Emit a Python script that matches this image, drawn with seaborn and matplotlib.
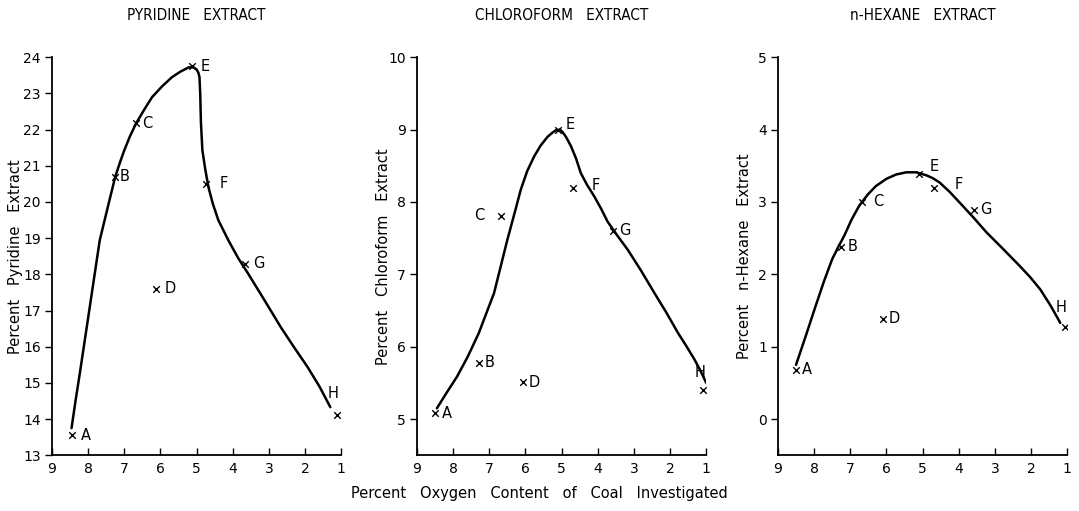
import seaborn as sns
import matplotlib.pyplot as plt
import pandas as pd

sns.set_theme(style="ticks")
plt.rcParams['font.family'] = ['DejaVu Sans']
plt.rcParams['text.color'] = 'black'
plt.rcParams['axes.labelcolor'] = 'black'

letters = ["A", "B", "C", "D", "E", "F", "G", "H"]

# measured points (percent oxygen, percent extract)
pyr_oxygen = [8.46, 7.25, 6.67, 6.12, 5.14, 4.75, 3.65, 1.12]
pyr_extract = [13.55, 20.7, 22.18, 17.6, 23.75, 20.5, 18.3, 14.1]
chl_oxygen = [8.49, 7.29, 6.69, 6.07, 5.10, 4.68, 3.57, 1.09]
chl_extract = [5.08, 5.78, 7.81, 5.51, 8.99, 8.19, 7.60, 5.40]
hex_oxygen = [8.50, 7.25, 6.68, 6.10, 5.11, 4.68, 3.57, 1.06]
hex_extract = [0.68, 2.38, 3.00, 1.39, 3.39, 3.20, 2.89, 1.27]

# hand drawn curves
pyr_curve_x = [8.46, 8.35, 8.23, 8.0, 7.68, 7.41, 7.25, 7.1, 7.0, 6.85, 6.67, 6.45, 6.23, 5.95,
               5.68, 5.45, 5.22, 5.08, 5.0, 4.95, 4.92, 4.9, 4.88, 4.84, 4.76, 4.67, 4.55, 4.4,
               4.12, 3.85, 3.58, 3.1, 2.67, 2.3, 1.93, 1.6, 1.3]
pyr_curve_y = [13.75, 14.5, 15.27, 16.8, 18.94, 20.05, 20.7, 21.15, 21.43, 21.8, 22.18, 22.55,
               22.9, 23.2, 23.45, 23.6, 23.72, 23.72, 23.66, 23.57, 23.45, 23.0, 22.2, 21.43,
               20.9, 20.4, 19.95, 19.5, 18.94, 18.45, 18.03, 17.25, 16.54, 15.98, 15.44,
               14.9, 14.33]
chl_curve_x = [8.45, 8.2, 7.89, 7.6, 7.29, 7.1, 6.87, 6.7, 6.5, 6.3, 6.13, 5.95, 5.76, 5.58,
               5.39, 5.25, 5.16, 5.05, 4.98, 4.88, 4.74, 4.6, 4.47, 4.3, 4.1, 3.9, 3.73, 3.45,
               3.17, 2.8, 2.43, 2.1, 1.78, 1.55, 1.32, 1.15, 1.0]
chl_curve_y = [5.15, 5.35, 5.59, 5.86, 6.19, 6.44, 6.74, 7.08, 7.48, 7.85, 8.17, 8.43, 8.63,
               8.78, 8.9, 8.96, 8.99, 9.0, 8.97, 8.9, 8.77, 8.6, 8.4, 8.24, 8.08, 7.9, 7.73,
               7.53, 7.34, 7.05, 6.74, 6.47, 6.19, 6.01, 5.82, 5.66, 5.5]
hex_curve_x = [8.5, 8.23, 7.96, 7.73, 7.5, 7.33, 7.17, 6.96, 6.75, 6.52, 6.29, 6.0, 5.73, 5.45,
               5.18, 5.04, 4.9, 4.72, 4.53, 4.25, 3.97, 3.6, 3.23, 2.77, 2.3, 2.02, 1.74, 1.46,
               1.19]
hex_curve_y = [0.75, 1.15, 1.56, 1.9, 2.21, 2.38, 2.53, 2.76, 2.95, 3.1, 3.22, 3.32, 3.38, 3.41,
               3.41, 3.39, 3.37, 3.33, 3.27, 3.14, 2.99, 2.79, 2.58, 2.35, 2.11, 1.96, 1.79,
               1.57, 1.33]

titles = ["PYRIDINE   EXTRACT", "CHLOROFORM   EXTRACT", "n-HEXANE   EXTRACT"]
ylabels = ["Percent   Pyridine   Extract", "Percent   Chloroform   Extract",
           "Percent   n-Hexane   Extract"]
ylims = [(13, 24), (4.5, 10), (-0.5, 5)]
yticks = [list(range(13, 25)), list(range(5, 11)), list(range(0, 6))]
ylabel_x = [-0.10, -0.09, -0.09]

# label offsets in points (dx, dy) per panel
offsets = [
    [(10, 0), (7, 0), (8, 0), (10, 0), (10, 0), (13, 0), (10, 0), (-3, 16)],
    [(8, 0), (8, 0), (-15, 0), (8, 0), (9, 4), (16, 2), (8, 0), (-2, 13)],
    [(8, 0), (8, 0), (12, 0), (8, 0), (11, 5), (18, 2), (8, 0), (-3, 14)],
]

points = [(pyr_oxygen, pyr_extract), (chl_oxygen, chl_extract), (hex_oxygen, hex_extract)]
curves = [(pyr_curve_x, pyr_curve_y), (chl_curve_x, chl_curve_y), (hex_curve_x, hex_curve_y)]

fig = plt.figure(figsize=(10.79, 5.11), dpi=100)
lefts = [0.0482, 0.3865, 0.721]
width = 0.268
bottom, height = 0.109, 0.779

for i in range(3):
    ax = fig.add_axes([lefts[i], bottom, width, height])
    cx, cy = curves[i]
    px, py = points[i]
    curve_df = pd.DataFrame({"oxygen": cx, "extract": cy})
    pt_df = pd.DataFrame({"oxygen": px, "extract": py, "sample": letters})
    sns.lineplot(data=curve_df, x="oxygen", y="extract", sort=False, color="black",
                 linewidth=1.8, ax=ax)
    sns.scatterplot(data=pt_df, x="oxygen", y="extract", marker="x", color="black",
                    s=22, linewidth=1.0, ax=ax, zorder=3)
    for j, lab in enumerate(letters):
        ax.annotate(lab, (px[j], py[j]), xytext=offsets[i][j], textcoords="offset points",
                    ha="center", va="center", fontsize=10.5, color="black")
    ax.set_xlim(9, 1)
    ax.set_ylim(*ylims[i])
    ax.set_xticks(range(1, 10))
    ax.set_yticks(yticks[i])
    ax.tick_params(axis="x", direction="in", length=5, width=1, labelsize=10, pad=5, colors="black")
    ax.tick_params(axis="y", direction="out", length=5, width=1, labelsize=10, pad=3, colors="black")
    sns.despine(ax=ax)
    for s in ["left", "bottom"]:
        ax.spines[s].set_linewidth(1.3)
        ax.spines[s].set_color("black")
    ax.set_xlabel("")
    ax.set_ylabel(ylabels[i], fontsize=10.5)
    ax.yaxis.set_label_coords(ylabel_x[i], 0.5)
    ax.set_title(titles[i], fontsize=11, pad=27, fontstretch="condensed",
                 family="Liberation Sans Narrow", color="black")

fig.text(0.5, 0.035, "Percent   Oxygen   Content   of   Coal   Investigated",
         ha="center", va="center", fontsize=10.5)

fig.savefig("out.png", dpi=100, facecolor="white")
